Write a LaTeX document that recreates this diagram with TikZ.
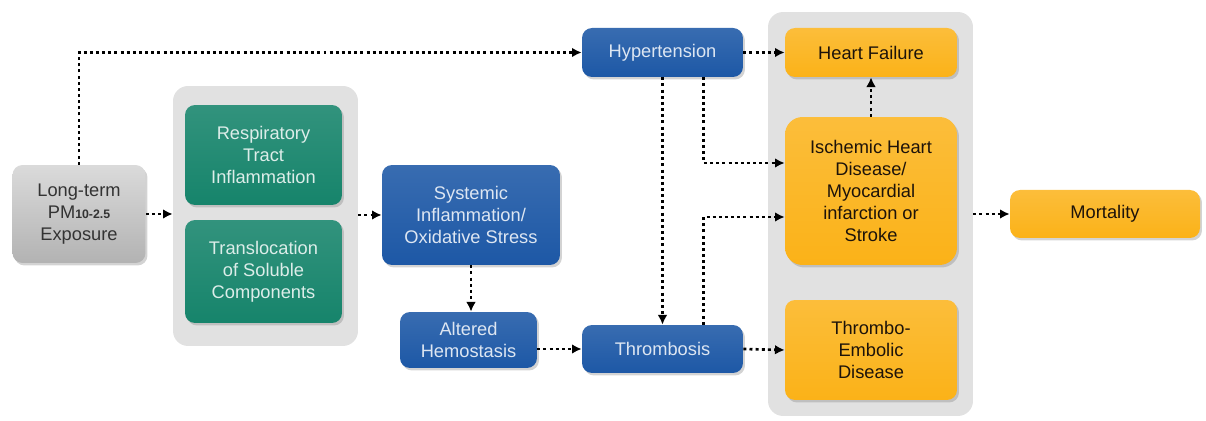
\documentclass[tikz,border=0pt]{standalone}
\usepackage{fontspec}
\setmainfont{Liberation Sans}
\usetikzlibrary{arrows.meta,calc,shadows}

\definecolor{boxgrey}{HTML}{C2C2C2}
\definecolor{boxgreen}{HTML}{16846B}
\definecolor{boxblue}{HTML}{1D58A6}
\definecolor{boxyellow}{HTML}{FBB218}
\definecolor{panelgrey}{HTML}{E1E1E1}

\begin{document}
\begin{tikzpicture}[x=0.02cm, y=-0.02cm,
    box/.style={rectangle, rounded corners=0.2cm, align=center, inner sep=0pt,
        font=\fontsize{10.4}{12.4}\selectfont,
        drop shadow={opacity=0.35, shadow xshift=0.04cm, shadow yshift=-0.05cm}},
    greybox/.style={box, top color=boxgrey!60!white, bottom color=boxgrey!92!black, text=black!80},
    greenbox/.style={box, top color=boxgreen!88!white, bottom color=boxgreen, text=white!85!boxgreen},
    bluebox/.style={box, top color=boxblue!88!white, bottom color=boxblue, text=white!85!boxblue},
    yellowbox/.style={box, top color=boxyellow!85!white, bottom color=boxyellow, text=black!85!brown},
    panel/.style={rectangle, rounded corners=0.3cm, fill=panelgrey, inner sep=0pt},
    conn/.style={line width=1.5pt, dash pattern=on 1.7pt off 1.8pt, -{Latex[length=5.5pt,width=5.5pt]}}]

    \useasboundingbox (0,0) rectangle (1206,421);

    % --- PANELS ---
    \node[panel, minimum width=3.7cm, minimum height=5.2cm] (lpanel) at (265.5, 216) {};
    \node[panel, minimum width=4.1cm, minimum height=8.08cm] (rpanel) at (870.5, 214) {};

    % --- EXPOSURE ---
    \node[greybox, minimum width=2.66cm, minimum height=1.96cm] (expo) at (79, 214)
        {Long-term\\PM{\fontsize{7}{8}\selectfont\textbf{10-2.5}}\\Exposure};

    % --- LUNG ---
    \node[greenbox, minimum width=3.14cm, minimum height=2.0cm] (resp) at (263.5, 155)
        {Respiratory\\Tract\\Inflammation};
    \node[greenbox, minimum width=3.14cm, minimum height=2.06cm] (transl) at (263.5, 271.5)
        {Translocation\\of Soluble\\Components};

    % --- SYSTEMIC ---
    \node[bluebox, minimum width=3.56cm, minimum height=2.0cm] (syst) at (471, 215)
        {Systemic\\Inflammation/\\Oxidative Stress};
    \node[bluebox, minimum width=2.74cm, minimum height=1.12cm] (alter) at (468.5, 340)
        {Altered\\Hemostasis};
    \node[bluebox, minimum width=3.22cm, minimum height=0.98cm] (hyper) at (662.5, 52.5)
        {Hypertension};
    \node[bluebox, minimum width=3.22cm, minimum height=0.96cm] (thromb) at (662.5, 349)
        {Thrombosis};

    % --- OUTCOMES ---
    \node[yellowbox, minimum width=3.44cm, minimum height=0.98cm] (hf) at (871, 52.5)
        {Heart Failure};
    \node[yellowbox, rounded corners=0.35cm, minimum width=3.44cm, minimum height=2.96cm] (ihd) at (871, 191)
        {Ischemic Heart\\Disease/\\Myocardial\\infarction or\\Stroke};
    \node[yellowbox, minimum width=3.44cm, minimum height=2.0cm] (teb) at (871, 350)
        {Thrombo-\\Embolic\\Disease};
    \node[yellowbox, minimum width=3.8cm, minimum height=0.96cm] (mort) at (1105, 214)
        {Mortality};

    % --- CONNECTORS ---
    \draw[conn] (expo.north) |- (hyper.west);
    \draw[conn] (expo.east) -- (expo.east -| lpanel.west);
    \draw[conn] (syst.west -| lpanel.east) -- (syst.west);
    \draw[conn] (syst.south) -- (syst.south |- alter.north);
    \draw[conn] (alter.east |- thromb.west) -- (thromb.west);
    \draw[conn] (hyper.south) -- (thromb.north);
    \draw[conn] ($(hyper.south)+(41,0)$) |- ($(ihd.west)+(0,-28)$);
    \draw[conn] ($(thromb.north)+(41,0)$) |- ($(ihd.west)+(0,26)$);
    \draw[conn] (hyper.east) -- (hf.west);
    \draw[conn] (ihd.north) -- (hf.south);
    \draw[conn] (thromb.east) -- (teb.west);
    \draw[conn] (rpanel.east |- mort.west) -- (mort.west);
\end{tikzpicture}
\end{document}
